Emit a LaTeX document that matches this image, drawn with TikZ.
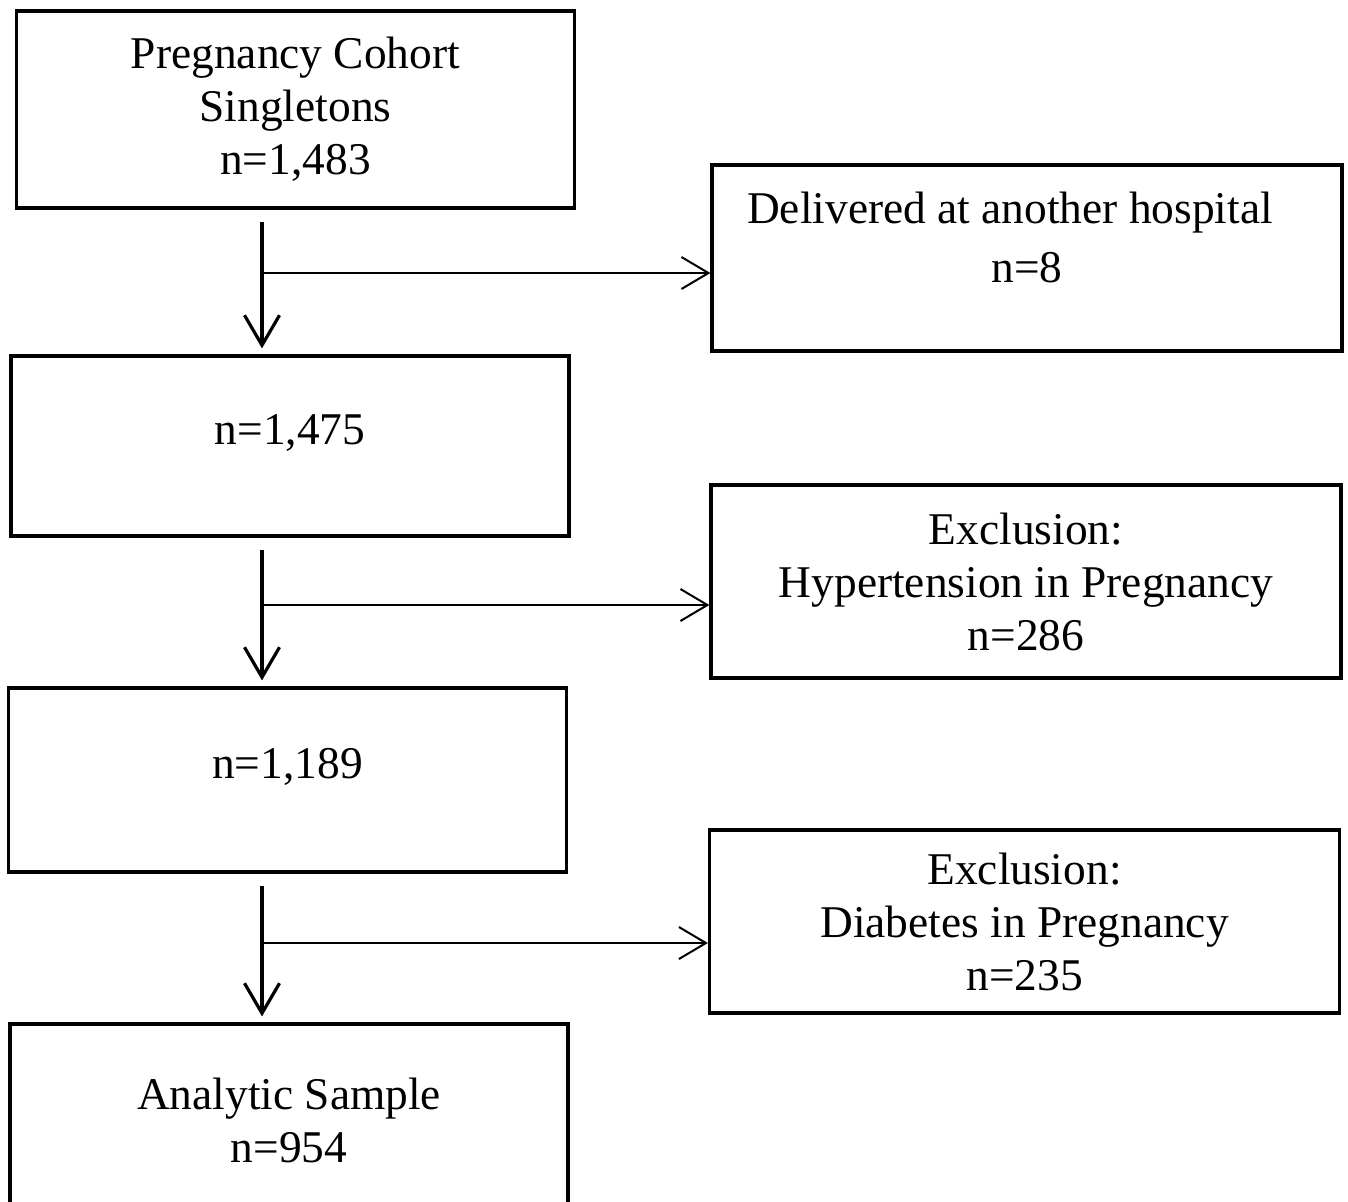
\documentclass[tikz,border=0pt]{standalone}
\usepackage{fontspec}
\setmainfont{Liberation Serif}
\usepackage{tikz}
\usetikzlibrary{arrows.meta, calc, positioning}

\begin{document}
\begin{tikzpicture}[
    x=0.5pt, y=-0.5pt,
    box/.style={rectangle, draw=black, line width=1.6pt, align=center, inner sep=0pt, font=\fontsize{22.7}{26.5}\selectfont},
    leftbox/.style={box, minimum width=279pt},
    sidebox/.style={box, minimum width=315pt},
    down/.style={-{Straight Barb[length=15pt, width=17.5pt]}, line width=1.6pt, shorten <=6pt, shorten >=3pt},
    side/.style={-{Straight Barb[length=13.5pt, width=16pt]}, line width=1pt}
]
\path[use as bounding box, fill=white] (0,0) rectangle (1348,1201);

% main column
\node[leftbox, minimum height=98.5pt] (cohort) at (295.5,109.5) {Pregnancy Cohort\\Singletons\\n=1,483};
\node[leftbox, minimum height=90pt, text depth=16pt] (step1) at (290,446) {n=1,475};
\node[leftbox, minimum height=92pt, text depth=17pt] (step2) at (287.5,780) {n=1,189};
\node[leftbox, minimum height=96pt] (sample) at (289,1120) {Analytic Sample\\n=954};

% exclusions
\node[sidebox, minimum height=93pt, text depth=20.5pt] (other) at (1027,258) {Delivered at another hospital\hspace*{17pt}\\[3pt]n=8};
\node[sidebox, minimum height=96.5pt] (htn) at (1026,581.5) {Exclusion:\\Hypertension in Pregnancy\\n=286};
\node[sidebox, minimum height=91.5pt] (dm) at (1024.5,921.5) {Exclusion:\\Diabetes in Pregnancy\\n=235};

\coordinate (k1) at (262,273);
\coordinate (k2) at (262,605);
\coordinate (k3) at (262,943);

\draw[down] (cohort.south -| k1) -- (step1.north -| k1);
\draw[down] (step1.south -| k2) -- (step2.north -| k2);
\draw[down] (step2.south -| k3) -- (sample.north -| k3);

\draw[side] (k1) -- (k1 -| other.west);
\draw[side] (k2) -- (k2 -| htn.west);
\draw[side] (k3) -- (k3 -| dm.west);

\end{tikzpicture}
\end{document}
